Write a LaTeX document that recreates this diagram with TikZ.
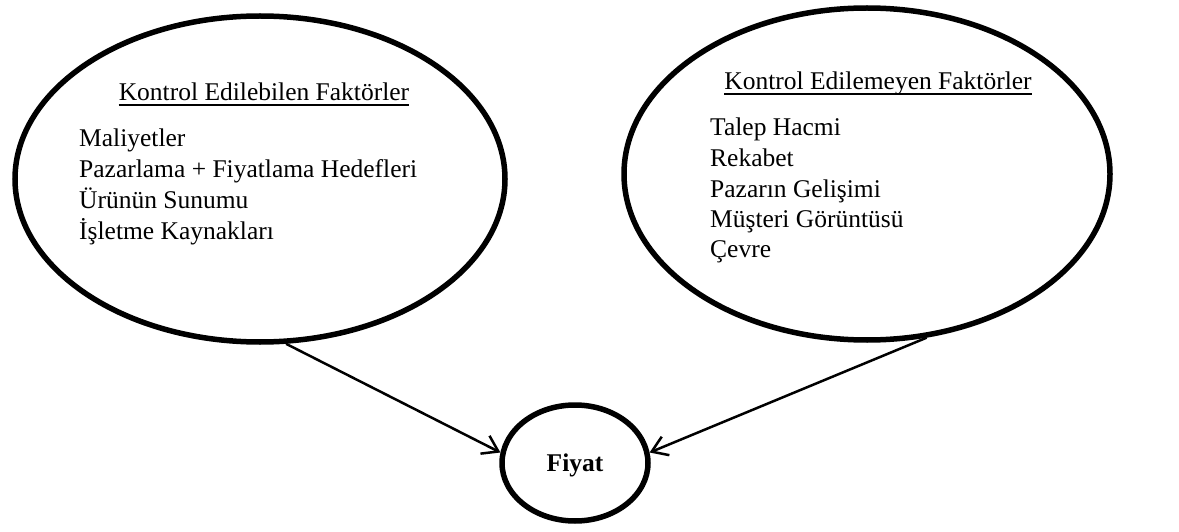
\documentclass[tikz,border=0pt]{standalone}
\usepackage{fontspec}
\setmainfont{Liberation Serif}
\usetikzlibrary{shapes.geometric,arrows.meta}
\begin{document}
\begin{tikzpicture}[x=1pt,y=-1pt,
  oval/.style={draw,ellipse,line width=5.5pt,inner sep=0pt},
  item/.style={anchor=base west,inner sep=0pt,font=\fontsize{25.5}{30}\selectfont},
  head/.style={anchor=base,inner sep=0pt,font=\fontsize{25.5}{30}\selectfont},
  uline/.style={line width=1.3pt},
  conn/.style={line width=2.5pt,-{Straight Barb[length=15pt,width=20pt]}}]
\useasboundingbox (0,0) rectangle (1179,532);
% ellipses
\node[oval,minimum width=490pt,minimum height=326pt] (L) at (260,179) {};
\node[oval,minimum width=486pt,minimum height=332pt] (R) at (867,174) {};
\node[oval,minimum width=146pt,minimum height=116pt] (F) at (575,463) {};
% left texts
\node[head] (LH) at (264,101) {Kontrol Edilebilen Faktörler};
\draw[uline] ([yshift=-4pt]LH.base west) -- ([yshift=-4pt]LH.base east);
\node[item] (L1) at (79,147) {Maliyetler};
\node[item] (L2) at (79,177.7) {Pazarlama + Fiyatlama Hedefleri};
\node[item] (L3) at (79,208.4) {Ürünün Sunumu};
\node[item] (L4) at (79,239.1) {İşletme Kaynakları};
% right texts
\node[head] (RH) at (878,90) {Kontrol Edilemeyen Faktörler};
\draw[uline] ([yshift=-4pt]RH.base west) -- ([yshift=-4pt]RH.base east);
\node[item] (R1) at (710,136) {Talep Hacmi};
\node[item] (R2) at (710,166.5) {Rekabet};
\node[item] (R3) at (710,197) {Pazarın Gelişimi};
\node[item] (R4) at (710,227.5) {Müşteri Görüntüsü};
\node[item] (R5) at (710,258) {Çevre};
% center
\node[anchor=base,inner sep=0pt,font=\fontsize{25.5}{30}\selectfont\bfseries] (FT) at (575,471) {Fiyat};
% connectors
\draw[conn] (L.-81) -- (F.172);
\draw[conn] (R.-70) -- (F.8);
\end{tikzpicture}
\end{document}
